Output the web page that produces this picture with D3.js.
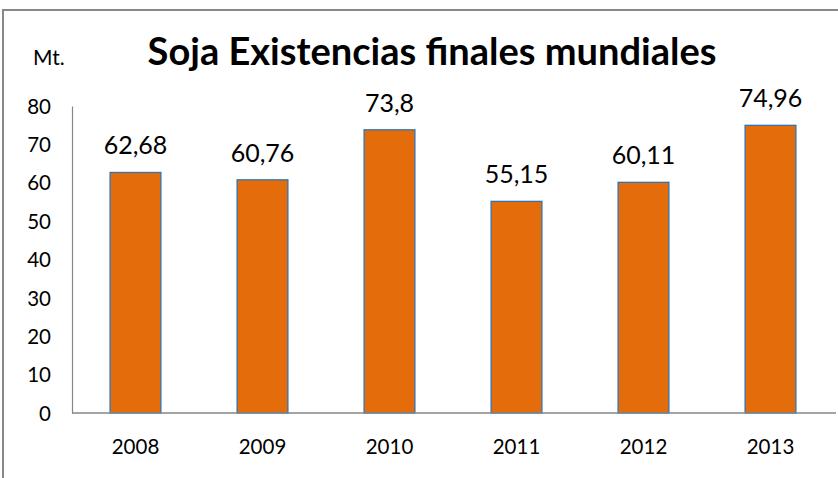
<!DOCTYPE html>
<html><head><meta charset="utf-8">
<script src="https://cdn.jsdelivr.net/npm/d3@7"></script>
<style>html,body{margin:0;padding:0;background:#fff;overflow:hidden}</style>
</head><body>
<svg id="c" width="838" height="478"></svg>
<script>
const categories = ["2008","2009","2010","2011","2012","2013"];
const values = [62.68, 60.76, 73.8, 55.15, 60.11, 74.96];
const valueLabels = ["62,68","60,76","73,8","55,15","60,11","74,96"];
const yTicks = [0,10,20,30,40,50,60,70,80];
const title = "Soja Existencias finales mundiales";
const unit = "Mt.";

const svg = d3.select("#c");
const FONT = "Lato, 'Open Sans', sans-serif";
const W = 838, H = 478;
const m = {left:72, right:4, top:106, bottom:65};

svg.append("rect").attr("x",3).attr("y",10).attr("width",W+10).attr("height",H+10)
  .attr("fill","#fff").attr("stroke","#888").attr("stroke-width",2);

const x = d3.scaleBand().domain(categories).range([m.left, 834]).paddingInner(0.6).paddingOuter(0.3);
const y = d3.scaleLinear().domain([0,80]).range([413, 106]);

// y axis
const ya = svg.append("g").attr("transform",`translate(${m.left},0)`)
  .call(d3.axisLeft(y).tickValues(yTicks).tickSize(0).tickPadding(21));
ya.select(".domain").attr("stroke","#868686").attr("stroke-width",1.2);
ya.selectAll("text").attr("font-family",FONT).attr("font-size",20.5).attr("fill","#000").attr("dy","0.35em");

// bars
svg.append("g").selectAll("rect").data(values).join("rect")
  .attr("x",(d,i)=>x(categories[i])).attr("width",x.bandwidth())
  .attr("y",d=>y(d)).attr("height",d=>y(0)-y(d))
  .attr("fill","#E46C0A").attr("stroke","#2E75B6").attr("stroke-width",1.3);

// x axis
const xa = svg.append("g").attr("transform",`translate(0,${y(0)})`)
  .call(d3.axisBottom(x).tickSize(0).tickPadding(26));
xa.select(".domain").attr("d",`M${m.left},0H836`).attr("stroke","#868686").attr("stroke-width",1.5);
xa.selectAll("text").attr("font-family",FONT).attr("font-size",20.5).attr("fill","#000");

// value labels
svg.append("g").selectAll("text").data(values).join("text")
  .attr("x",(d,i)=>x(categories[i])+x.bandwidth()/2)
  .attr("y",d=>y(d)-18)
  .attr("text-anchor","middle").attr("font-family",FONT).attr("font-size",25).attr("fill","#000")
  .text((d,i)=>valueLabels[i]);

// title
const t = svg.append("text").attr("x",432).attr("y",65).attr("text-anchor","middle")
  .attr("font-family",FONT).attr("font-weight","bold").attr("font-size",32).attr("fill","#000").text(title);
const tw = t.node().getComputedTextLength();
t.attr("font-size", 32*569/tw);

svg.append("text").attr("x",33).attr("y",65).attr("font-family",FONT).attr("font-size",21).attr("fill","#000").text(unit);
</script>
</body></html>
